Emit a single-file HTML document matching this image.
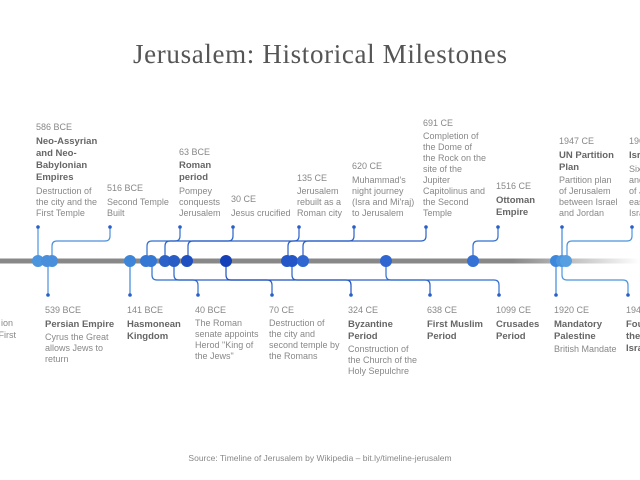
<!DOCTYPE html>
<html><head><meta charset="utf-8"><style>
html,body{margin:0;padding:0;background:#fff;width:640px;height:480px;overflow:hidden}
svg{display:block}
.d{font:9px "Liberation Sans",sans-serif;fill:#888}
.t{font:bold 9.5px "Liberation Sans",sans-serif;fill:#666}
.x{font:8.5px "Liberation Sans",sans-serif;fill:#888}
</style></head><body>
<svg width="640" height="480" viewBox="0 0 640 480">
<defs><linearGradient id="ax" x1="0" x2="1"><stop offset="0.8" stop-color="#888"/><stop offset="1" stop-color="#fff"/></linearGradient></defs>
<text x="320" y="63" text-anchor="middle" textLength="374" style="font:27px 'Liberation Serif',serif;fill:#555">Jerusalem: Historical Milestones</text>
<rect x="0" y="258.5" width="640" height="5" fill="url(#ax)"/>
<g fill="none" stroke-width="1.2">
<path d="M38 227V261" stroke="#4a95de"/>
<path d="M110 227V236q0 5-5 5H57q-5 0-5 5V261" stroke="#4a8fdc"/>
<path d="M48 261V295" stroke="#4a8fdc"/>
<path d="M130 261V295" stroke="#3d85d8"/>
<path d="M180 227V236q0 5-5 5H152q-5 0-5 5V261" stroke="#2f6fd0"/>
<path d="M233 227V236q0 5-5 5H170q-5 0-5 5V261" stroke="#2a62c8"/>
<path d="M299 227V236q0 5-5 5H293q-5 0-5 5V261" stroke="#2a5fc8"/>
<path d="M354 227V236q0 5-5 5H193q-5 0-5 5V261" stroke="#2a5fc8"/>
<path d="M426 227V236q0 5-5 5H308q-5 0-5 5V261" stroke="#2a5fc8"/>
<path d="M498 227V236q0 5-5 5H478q-5 0-5 5V261" stroke="#2f6fd0"/>
<path d="M152 261V275q0 5 5 5H193q5 0 5 5V295" stroke="#2f6fd0"/>
<path d="M174 261V275q0 5 5 5H267q5 0 5 5V295" stroke="#2a62c8"/>
<path d="M226 261V275q0 5 5 5H346q5 0 5 5V295" stroke="#1e50c0"/>
<path d="M292 261V275q0 5 5 5H425q5 0 5 5V295" stroke="#2a5fc8"/>
<path d="M386 261V275q0 5 5 5H494q5 0 5 5V295" stroke="#2f6fd0"/>
<path d="M556 261V295" stroke="#3d88dc"/>
<path d="M562 227V261" stroke="#3d88dc"/>
<path d="M632 227V236q0 5-5 5H572q-5 0-5 5V261" stroke="#4a95de"/>
<path d="M562 261V275q0 5 5 5H623q5 0 5 5V295" stroke="#4a95de"/>
</g>
<g fill="#2a5fc8">
<circle cx="38" cy="227" r="1.8"/><circle cx="110" cy="227" r="1.8"/><circle cx="180" cy="227" r="1.8"/><circle cx="233" cy="227" r="1.8"/><circle cx="299" cy="227" r="1.8"/><circle cx="354" cy="227" r="1.8"/><circle cx="426" cy="227" r="1.8"/><circle cx="498" cy="227" r="1.8"/><circle cx="562" cy="227" r="1.8"/><circle cx="632" cy="227" r="1.8"/>
<circle cx="48" cy="295" r="1.8"/><circle cx="130" cy="295" r="1.8"/><circle cx="198" cy="295" r="1.8"/><circle cx="272" cy="295" r="1.8"/><circle cx="351" cy="295" r="1.8"/><circle cx="430" cy="295" r="1.8"/><circle cx="499" cy="295" r="1.8"/><circle cx="556" cy="295" r="1.8"/><circle cx="628" cy="295" r="1.8"/>
</g>
<g>
<circle cx="38" cy="261" r="6" fill="#4a95de"/><circle cx="47" cy="261" r="6" fill="#4a8fdc"/><circle cx="52" cy="261" r="6" fill="#4a8fdc"/>
<circle cx="130" cy="261" r="6" fill="#3d85d8"/><circle cx="146" cy="261" r="6" fill="#3478d4"/><circle cx="151" cy="261" r="6" fill="#3478d4"/>
<circle cx="165" cy="261" r="6" fill="#2c62c8"/><circle cx="174" cy="261" r="6" fill="#2a5cc6"/><circle cx="187" cy="261" r="6" fill="#1e4fc0"/>
<circle cx="226" cy="261" r="6" fill="#1540b8"/>
<circle cx="287" cy="261" r="6" fill="#2456c8"/><circle cx="292" cy="261" r="6" fill="#2456c8"/><circle cx="303" cy="261" r="6" fill="#2f66cf"/>
<circle cx="386" cy="261" r="6" fill="#2f66d2"/><circle cx="473" cy="261" r="6" fill="#3472d6"/>
<circle cx="556" cy="261" r="6" fill="#3d88dc"/><circle cx="562" cy="261" r="6" fill="#4a95de"/><circle cx="566" cy="261" r="6" fill="#56a0e2"/>
</g>
<text class="d" x="36" y="130">586 BCE</text>
<text class="t" x="36" y="144">Neo-Assyrian</text><text class="t" x="36" y="156">and Neo-</text><text class="t" x="36" y="168">Babylonian</text><text class="t" x="36" y="180">Empires</text>
<text class="d" x="36" y="194">Destruction of</text><text class="d" x="36" y="205">the city and the</text><text class="d" x="36" y="216">First Temple</text>
<text class="d" x="107" y="191">516 BCE</text><text class="d" x="107" y="205">Second Temple</text><text class="d" x="107" y="216">Built</text>
<text class="d" x="179" y="155">63 BCE</text><text class="t" x="179" y="168">Roman</text><text class="t" x="179" y="180">period</text>
<text class="d" x="179" y="194">Pompey</text><text class="d" x="179" y="205">conquests</text><text class="d" x="179" y="216">Jerusalem</text>
<text class="d" x="231" y="202">30 CE</text><text class="d" x="231" y="216">Jesus crucified</text>
<text class="d" x="297" y="181">135 CE</text><text class="d" x="297" y="194">Jerusalem</text><text class="d" x="297" y="205">rebuilt as a</text><text class="d" x="297" y="216">Roman city</text>
<text class="d" x="352" y="169">620 CE</text><text class="d" x="352" y="183">Muhammad's</text><text class="d" x="352" y="194">night journey</text><text class="d" x="352" y="205">(Isra and Mi'raj)</text><text class="d" x="352" y="216">to Jerusalem</text>
<text class="d" x="423" y="126">691 CE</text><text class="d" x="423" y="139">Completion of</text><text class="d" x="423" y="150">the Dome of</text><text class="d" x="423" y="161">the Rock on the</text><text class="d" x="423" y="172">site of the</text><text class="d" x="423" y="183">Jupiter</text><text class="d" x="423" y="194">Capitolinus and</text><text class="d" x="423" y="205">the Second</text><text class="d" x="423" y="216">Temple</text>
<text class="d" x="496" y="189">1516 CE</text><text class="t" x="496" y="203">Ottoman</text><text class="t" x="496" y="215">Empire</text>
<text class="d" x="559" y="144">1947 CE</text><text class="t" x="559" y="158">UN Partition</text><text class="t" x="559" y="170">Plan</text>
<text class="d" x="559" y="183">Partition plan</text><text class="d" x="559" y="194">of Jerusalem</text><text class="d" x="559" y="205">between Israel</text><text class="d" x="559" y="216">and Jordan</text>
<text class="d" x="629" y="144">1967 CE</text><text class="t" x="629" y="158">Israel</text><text class="d" x="629" y="172">Six</text><text class="d" x="629" y="183">and</text><text class="d" x="629" y="194">of J</text><text class="d" x="629" y="205">east</text><text class="d" x="629" y="216">Isra</text>
<text class="d" x="13" y="326" text-anchor="end">ion</text><text class="d" x="16" y="338" text-anchor="end">First</text>
<text class="d" x="45" y="313">539 BCE</text><text class="t" x="45" y="327">Persian Empire</text>
<text class="d" x="45" y="340">Cyrus the Great</text><text class="d" x="45" y="351">allows Jews to</text><text class="d" x="45" y="362">return</text>
<text class="d" x="127" y="313">141 BCE</text><text class="t" x="127" y="327">Hasmonean</text><text class="t" x="127" y="339">Kingdom</text>
<text class="d" x="195" y="313">40 BCE</text><text class="d" x="195" y="326">The Roman</text><text class="d" x="195" y="337">senate appoints</text><text class="d" x="195" y="348">Herod "King of</text><text class="d" x="195" y="359">the Jews"</text>
<text class="d" x="269" y="313">70 CE</text><text class="d" x="269" y="326">Destruction of</text><text class="d" x="269" y="337">the city and</text><text class="d" x="269" y="348">second temple by</text><text class="d" x="269" y="359">the Romans</text>
<text class="d" x="348" y="313">324 CE</text><text class="t" x="348" y="327">Byzantine</text><text class="t" x="348" y="339">Period</text>
<text class="d" x="348" y="352">Construction of</text><text class="d" x="348" y="363">the Church of the</text><text class="d" x="348" y="374">Holy Sepulchre</text>
<text class="d" x="427" y="313">638 CE</text><text class="t" x="427" y="327">First Muslim</text><text class="t" x="427" y="339">Period</text>
<text class="d" x="496" y="313">1099 CE</text><text class="t" x="496" y="327">Crusades</text><text class="t" x="496" y="339">Period</text>
<text class="d" x="554" y="313">1920 CE</text><text class="t" x="554" y="327">Mandatory</text><text class="t" x="554" y="339">Palestine</text><text class="d" x="554" y="352">British Mandate</text>
<text class="d" x="626" y="313">1948 CE</text><text class="t" x="626" y="327">Found</text><text class="t" x="626" y="339">the</text><text class="t" x="626" y="351">Israel</text>
<text class="x" x="320" y="461" text-anchor="middle">Source: Timeline of Jerusalem by Wikipedia – bit.ly/timeline-jerusalem</text>
</svg>
</body></html>
